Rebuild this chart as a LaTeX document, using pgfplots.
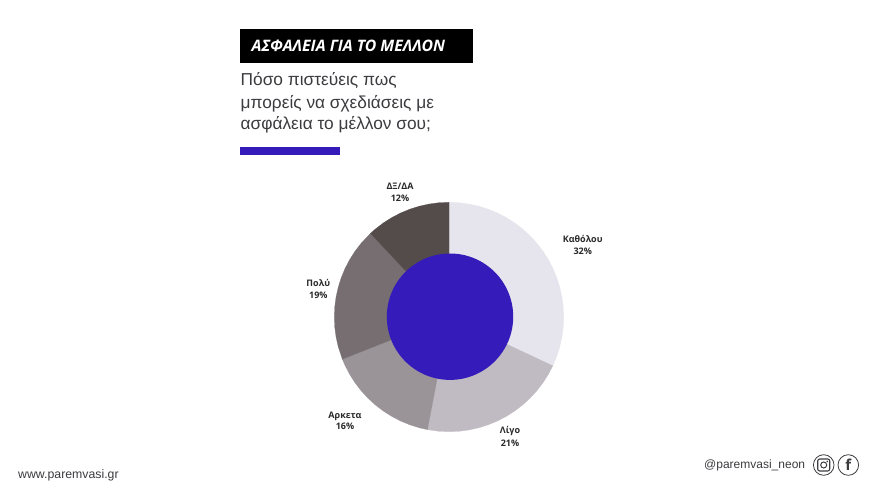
\documentclass[border=0pt]{standalone}
\usepackage{fontspec}
\setmainfont{Open Sans}
\newfontfamily\sub{Liberation Sans}
\usepackage{pgfplots}
\pgfplotsset{compat=1.18}
\definecolor{purp}{HTML}{351CBA}
\definecolor{ca}{HTML}{E6E4EC}
\definecolor{cb}{HTML}{C0BBC2}
\definecolor{cc}{HTML}{9A9498}
\definecolor{cd}{HTML}{766E70}
\definecolor{ce}{HTML}{544B4B}
\definecolor{txt}{HTML}{3C3C40}
\definecolor{lab}{HTML}{2A2A2C}
\newcommand{\lbl}[3]{\node[align=center,anchor=base,font=\fontsize{9}{12.6}\selectfont\bfseries,text=lab] at (axis cs:#1,#2) {#3};}
\begin{document}
\begin{tikzpicture}
\begin{axis}[
  scale only axis, width=880pt, height=493pt,
  xmin=-449, xmax=431, ymin=-176, ymax=317,
  hide axis, clip=false]
\path[fill=white] (axis cs:-449,-176) rectangle (axis cs:431,317);
% Kathólou 32%
\addplot[fill=ca,draw=ca,line width=0.2pt,data cs=polar] coordinates {(0,0) (90,114.7) (85,114.7) (80,114.7) (75,114.7) (70,114.7) (65,114.7) (60,114.7) (55,114.7) (50,114.7) (45,114.7) (40,114.7) (35,114.7) (30,114.7) (25,114.7) (20,114.7) (15,114.7) (10,114.7) (5,114.7) (0,114.7) (-5,114.7) (-10,114.7) (-15,114.7) (-20,114.7) (-25.2,114.7) (0,0)};
% Lígo 21%
\addplot[fill=cb,draw=cb,line width=0.2pt,data cs=polar] coordinates {(0,0) (-25.2,114.7) (-30,114.7) (-35,114.7) (-40,114.7) (-45,114.7) (-50,114.7) (-55,114.7) (-60,114.7) (-65,114.7) (-70,114.7) (-75,114.7) (-80,114.7) (-85,114.7) (-90,114.7) (-95,114.7) (-100.8,114.7) (0,0)};
% Arketa 16%
\addplot[fill=cc,draw=cc,line width=0.2pt,data cs=polar] coordinates {(0,0) (-100.8,114.7) (-105,114.7) (-110,114.7) (-115,114.7) (-120,114.7) (-125,114.7) (-130,114.7) (-135,114.7) (-140,114.7) (-145,114.7) (-150,114.7) (-155,114.7) (-158.4,114.7) (0,0)};
% Polý 19%
\addplot[fill=cd,draw=cd,line width=0.2pt,data cs=polar] coordinates {(0,0) (-158.4,114.7) (-165,114.7) (-170,114.7) (-175,114.7) (-180,114.7) (-185,114.7) (-190,114.7) (-195,114.7) (-200,114.7) (-205,114.7) (-210,114.7) (-215,114.7) (-220,114.7) (-226.8,114.7) (0,0)};
% DX/DA 12%
\addplot[fill=ce,draw=ce,line width=0.2pt,data cs=polar] coordinates {(0,0) (-226.8,114.7) (-230,114.7) (-235,114.7) (-240,114.7) (-245,114.7) (-250,114.7) (-255,114.7) (-260,114.7) (-265,114.7) (-270,114.7) (0,0)};
% centre
\fill[purp] (axis cs:1,0.3) circle[radius=63.2];
% title
\fill[black] (axis cs:-209,287.7) rectangle (axis cs:24,254.3);
\node[anchor=base west,inner sep=0pt,text=white,font=\fontsize{15.8}{15.8}\selectfont\bfseries\itshape] at (axis cs:-197.5,265.3) {ΑΣΦΑΛΕΙΑ ΓΙΑ ΤΟ ΜΕΛΛΟΝ};
\node[anchor=base west,inner sep=0pt,text=txt,font=\sub\fontsize{17.3}{17.3}\selectfont] at (axis cs:-208.5,231) {Πόσο πιστεύεις πως};
\node[anchor=base west,inner sep=0pt,text=txt,font=\sub\fontsize{17.3}{17.3}\selectfont] at (axis cs:-208.5,208.7) {μπορείς να σχεδιάσεις με};
\node[anchor=base west,inner sep=0pt,text=txt,font=\sub\fontsize{17.3}{17.3}\selectfont] at (axis cs:-208.5,187) {ασφάλεια το μέλλον σου;};
\fill[purp] (axis cs:-209,169.7) rectangle (axis cs:-109,162);
% labels
\lbl{-49}{127.5}{ΔΞ/ΔΑ}
\lbl{-49}{115.5}{12\%}
\lbl{133.7}{74.3}{Καθόλου}
\lbl{133.7}{62}{32\%}
\lbl{-130.7}{31}{Πολύ}
\lbl{-130.7}{19}{19\%}
\lbl{-104}{-101.7}{Αρκετα}
\lbl{-104}{-112.3}{16\%}
\lbl{61}{-116}{Λίγο}
\lbl{61}{-129.7}{21\%}
% footer
\node[anchor=base west,inner sep=0pt,text=txt,font=\sub\fontsize{12.3}{12.3}\selectfont] at (axis cs:-431,-161) {www.paremvasi.gr};
\node[anchor=base west,inner sep=0pt,text=txt,font=\sub\fontsize{12}{12}\selectfont] at (axis cs:255,-151) {@paremvasi\_neon};
\draw[txt,line width=0.8pt] (axis cs:374.7,-148) circle[radius=10.3];
\draw[txt,line width=0.8pt] (axis cs:399.3,-148) circle[radius=10.3];
\draw[txt,line width=1.1pt,rounded corners=2pt] (axis cs:368.7,-154) rectangle (axis cs:380.7,-142);
\draw[txt,line width=1pt] (axis cs:374.7,-148) circle[radius=3];
\fill[txt] (axis cs:378.2,-144.5) circle[radius=0.8];
\node[anchor=base,inner sep=0pt,text=txt,font=\fontsize{15}{15}\selectfont\bfseries] at (axis cs:399.3,-153.5) {f};
\end{axis}
\end{tikzpicture}
\end{document}
